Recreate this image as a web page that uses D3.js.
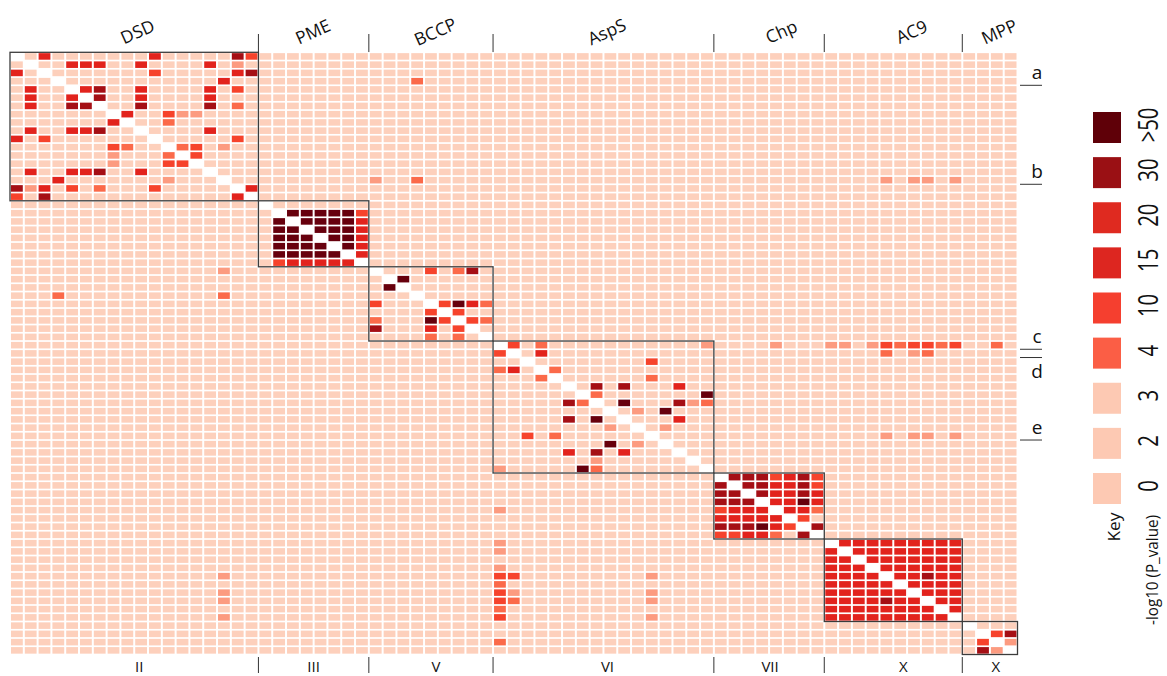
<!DOCTYPE html>
<html><head><meta charset="utf-8">
<script src="https://cdn.jsdelivr.net/npm/d3@7"></script>
<style>body{margin:0;background:#fff}svg{display:block}</style>
</head><body>
<svg id="chart" width="1167" height="676"></svg>
<script>
// ---------------- DATA ----------------
const groups = ["DSD","PME","BCCP","AspS","Chp","AC9","MPP"];
const groupSizes = [18,8,9,16,8,10,4];
const bottomLabels = ["II","III","V","VI","VII","X","X"];
// level codes: 0 pale(0-3), 1 light, 2 ">=4", 3 ">=10", 4 ">=15/20", 5 ">=30", 6 ">50"
const levelColors = ["#fdd0bc","#fc9b80","#fb6a4a","#f6432c","#e2231d","#a50f15","#67000d"];
const legendLabels = [">50","30","20","15","10","4","3","2","0"];
const legendColors = ["#5f0008","#9a1014","#df2a20","#dd2620","#f53f2f","#fb5e45","#fdc9b3","#fdc9b3","#fdc9b3"];
const rowMarks = [["a",3],["b",15],["c",35],["d",36],["e",46]];

// within-block cells [row, col, level] (local indices)
const dsdCells = [
 [0,2,4],[0,10,4],[0,16,5],[0,17,3],
 [1,4,4],[1,5,4],[1,6,4],[1,9,4],[1,14,4],[1,16,1],
 [2,0,4],[2,10,3],[2,16,4],[2,17,5],
 [3,15,4],
 [4,1,4],[4,5,4],[4,6,5],[4,9,4],[4,14,4],[4,16,3],
 [5,1,4],[5,4,4],[5,6,5],[5,9,4],[5,14,4],
 [6,1,4],[6,4,5],[6,5,5],[6,9,5],[6,14,5],[6,16,2],
 [7,8,4],[7,11,3],[7,12,1],[7,13,1],
 [8,7,4],[8,11,2],
 [9,1,4],[9,4,4],[9,5,4],[9,6,5],[9,14,4],
 [10,0,4],[10,2,3],[10,16,3],
 [11,7,3],[11,8,2],[11,12,2],[11,13,3],[11,15,1],
 [12,7,1],[12,11,2],[12,13,3],
 [13,7,1],[13,11,3],[13,12,3],
 [14,1,4],[14,4,4],[14,5,4],[14,6,5],[14,9,4],
 [15,3,4],[15,11,1],
 [16,0,5],[16,1,1],[16,2,4],[16,4,3],[16,6,2],[16,10,3],[16,17,4],
 [17,0,3],[17,2,5],[17,16,4]
];
const pmeRows = [
 "-0000000",
 "0-666663",
 "06-66664",
 "066-6664",
 "0666-664",
 "06666-64",
 "066666-4",
 "0344444-"
];
const bccpCells = [
 [0,4,3],[0,6,2],[0,7,5],[1,2,6],[2,1,6],
 [4,0,3],[4,5,3],[4,6,6],[4,7,4],[4,8,2],
 [5,4,3],[5,6,3],
 [6,0,2],[6,4,6],[6,5,3],[6,7,3],[6,8,2],
 [7,0,5],[7,4,4],[7,6,3],[8,4,2],[8,6,2]
];
const aspsCells = [
 [0,1,3],[0,3,2],[0,15,1],[1,0,3],[1,3,4],[2,11,3],
 [3,0,2],[3,1,4],[3,4,2],[4,3,2],[4,11,2],
 [5,7,5],[5,9,5],[5,13,4],[6,7,2],[6,15,6],
 [7,5,5],[7,6,2],[7,9,6],[7,13,5],[7,14,1],[7,15,2],
 [8,10,1],[8,12,6],[9,5,5],[9,7,6],[9,13,4],
 [10,8,1],[10,12,1],[11,2,3],[11,4,2],
 [12,8,6],[12,10,1],[13,5,4],[13,7,5],[13,9,4],
 [14,7,1],[15,0,1],[15,6,6],[15,7,2]
];
const chpRows = [
 "-5553453",
 "5-554453",
 "55-54454",
 "555-4464",
 "3444-442",
 "44444-30",
 "555643-5",
 "3344205-"
];
const ac9Rows = [
 "-444444444",
 "4-44444444",
 "44-4444444",
 "444-444444",
 "4444-44544",
 "44444-4444",
 "444444-444",
 "4444544-44",
 "44444444-4",
 "444444444-"
];
const mppCells = [[1,2,3],[1,3,5],[2,1,3],[2,3,1],[3,1,5],[3,2,1]];
// cells outside the diagonal blocks [row, col, level] (global indices)
const offBlockCells = [
 [3,29,2],[15,26,1],[15,29,2],[15,63,1],[15,65,1],[15,66,1],[15,68,1],
 [26,15,1],[29,3,2],[29,15,2],
 [35,55,1],[35,59,1],[35,60,1],[35,62,1],[35,63,3],[35,64,2],[35,65,3],[35,66,3],[35,67,2],[35,68,3],[35,71,2],
 [36,63,2],[36,65,1],[36,66,2],
 [46,63,1],[46,65,1],[46,66,1],[46,68,1],
 [55,35,1],[59,35,1],[60,35,1],[62,35,1],[63,35,3],[64,35,2],[65,35,3],[66,35,3],[67,35,2],[68,35,3],[71,35,2],
 [63,36,3],[65,36,1],[66,36,2],
 [63,15,1],[65,15,1],[66,15,1],[68,15,1],
 [63,46,1],[65,46,1],[66,46,1],[68,46,1]
];

// ---------------- BUILD MATRIX ----------------
const n = d3.sum(groupSizes);
const starts = groupSizes.map((s,i)=>d3.sum(groupSizes.slice(0,i)));
const M = Array.from({length:n},()=>new Array(n).fill(0));
function putSparse(gi, list){ const o=starts[gi]; list.forEach(([r,c,v])=>{M[o+r][o+c]=v;}); }
function putDense(gi, rows){ const o=starts[gi]; rows.forEach((s,r)=>[...s].forEach((ch,c)=>{ if(ch!=='-') M[o+r][o+c]=+ch; })); }
putSparse(0, dsdCells); putDense(1, pmeRows); putSparse(2, bccpCells); putSparse(3, aspsCells);
putDense(4, chpRows); putDense(5, ac9Rows); putSparse(6, mppCells);
offBlockCells.forEach(([r,c,v])=>{M[r][c]=v;});
const cells = [];
for(let r=0;r<n;r++) for(let c=0;c<n;c++) cells.push({r,c,v:r===c?-1:M[r][c]});

// ---------------- DRAW ----------------
const svg = d3.select("#chart");
const idx = d3.range(n);
const x = d3.scaleBand().domain(idx).range([10,1017.5]);
const y = d3.scaleBand().domain(idx).range([52.3,654.5]);
const bw = x.bandwidth(), bh = y.bandwidth();
const color = d3.scaleOrdinal().domain(d3.range(levelColors.length)).range(levelColors);
const font = "'Open Sans', 'DejaVu Sans', sans-serif";

svg.append("g").selectAll("rect").data(cells.filter(d=>d.v>=0)).join("rect")
  .attr("x", d=>x(d.c)+1).attr("y", d=>y(d.r)+0.85)
  .attr("width", bw-2).attr("height", bh-1.7)
  .attr("fill", d=>color(d.v));

// block boxes
svg.append("g").selectAll("rect").data(groups.map((g,i)=>({g,i}))).join("rect")
  .attr("x", d=>x(starts[d.i])).attr("y", d=>y(starts[d.i]))
  .attr("width", d=>bw*groupSizes[d.i]).attr("height", d=>bh*groupSizes[d.i])
  .attr("fill","none").attr("stroke","#3c3c3c").attr("stroke-width",1.3);

// top separators and labels
const inner = starts.slice(1);
svg.append("g").selectAll("line").data(inner).join("line")
  .attr("x1", d=>x(d)).attr("x2", d=>x(d)).attr("y1",34).attr("y2",52)
  .attr("stroke","#333").attr("stroke-width",1);
const topNudge = [3,-1,4,3,12,18,9];
svg.append("g").selectAll("text").data(groups).join("text")
  .attr("transform",(d,i)=>{ const cx = x(starts[i]) + bw*groupSizes[i]/2 + topNudge[i]; return `translate(${cx},31) rotate(-24)`; })
  .attr("text-anchor","middle").attr("dominant-baseline","central")
  .attr("font-family",font).attr("font-size",17.5).attr("fill","#111").text(d=>d);

// bottom separators and labels
svg.append("g").selectAll("line").data(inner).join("line")
  .attr("x1", d=>x(d)).attr("x2", d=>x(d)).attr("y1",657).attr("y2",673)
  .attr("stroke","#333").attr("stroke-width",1);
const botNudge = [5,0,5,4,1,10,6];
svg.append("g").selectAll("text").data(bottomLabels).join("text")
  .attr("x",(d,i)=> x(starts[i]) + bw*groupSizes[i]/2 + botNudge[i]).attr("y",671.5)
  .attr("text-anchor","middle").attr("font-family",font).attr("font-size",15).attr("fill","#111").text(d=>d);

// right row markers
const mk = svg.append("g");
rowMarks.forEach(([lab,row],i)=>{
  const ly = y(row)+bh;
  const below = i>0 && rowMarks[i-1][1]===row-1;
  mk.append("line").attr("x1",1020).attr("x2",1042).attr("y1",ly).attr("y2",ly)
    .attr("stroke","#333").attr("stroke-width",1);
  mk.append("text").attr("x",1037).attr("y", below ? ly+20 : ly-6)
    .attr("text-anchor","middle").attr("font-family",font).attr("font-size",19).attr("fill","#111").text(lab);
});

// legend
const ly = d3.scalePoint().domain(legendLabels).range([112,473]);
const lg = svg.append("g");
lg.selectAll("rect").data(legendLabels).join("rect")
  .attr("x",1093).attr("y",d=>ly(d)).attr("width",28).attr("height",31)
  .attr("fill",(d,i)=>legendColors[i]);
lg.selectAll("text").data(legendLabels).join("text")
  .attr("transform",d=>`translate(1147,${ly(d)+13}) rotate(-90) scale(0.75,1)`)
  .attr("text-anchor","middle").attr("dominant-baseline","central")
  .attr("font-family",font).attr("font-size",27).attr("fill","#111").text(d=>d);
lg.append("text").attr("transform","translate(1113,527) rotate(-90)")
  .attr("text-anchor","middle").attr("dominant-baseline","central")
  .attr("font-family",font).attr("font-size",17).attr("textLength",29).attr("lengthAdjust","spacingAndGlyphs")
  .attr("fill","#111").text("Key");
lg.append("text").attr("transform","translate(1152,570) rotate(-90)")
  .attr("text-anchor","middle").attr("dominant-baseline","central")
  .attr("font-family",font).attr("font-size",16).attr("textLength",110).attr("lengthAdjust","spacingAndGlyphs")
  .attr("fill","#111").text("-log10 (P_value)");
</script>
</body></html>
